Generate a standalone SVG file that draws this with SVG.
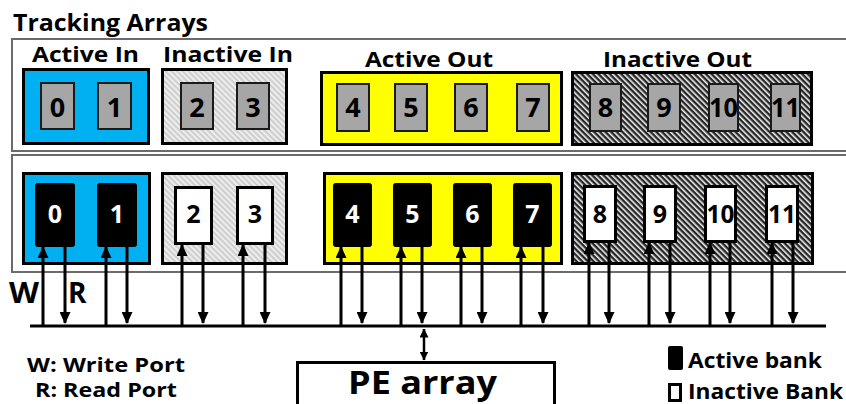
<svg xmlns="http://www.w3.org/2000/svg" width="846" height="404" viewBox="0 0 846 404">
<style>
text{font-family:"Open Sans",Lato,"Liberation Sans",sans-serif;font-weight:bold;fill:#000}
.frame{fill:none;stroke:#6b6b6b;stroke-width:2}
.grp{stroke:#000;stroke-width:3}
.blue{fill:#00b0f0}
.yellow{fill:#ffff00}
.lh{fill:url(#lightHatch)}
.dh{fill:url(#darkHatch)}
.tb{fill:#a6a6a6;stroke:#1a1a1a;stroke-width:2}
.ab{fill:#000;stroke:#000;stroke-width:1}
.ib{fill:#fff;stroke:#000;stroke-width:3}
.lbl{font-size:22px}
.n1{font-size:27px;text-anchor:middle}
.n2{font-size:25px;text-anchor:middle}
.wn{fill:#fff}
.wire{stroke:#000;stroke-width:3;fill:none}
</style>
<defs>
<pattern id="lightHatch" width="4" height="4" patternUnits="userSpaceOnUse" patternTransform="rotate(-45)">
<rect width="4" height="4" fill="#cfcfcf"/>
<rect width="1.6" height="4" fill="#f4f4f4"/>
</pattern>
<pattern id="darkHatch" width="4" height="4" patternUnits="userSpaceOnUse" patternTransform="rotate(-45)">
<rect width="4" height="4" fill="#262626"/>
<rect width="1.6" height="4" fill="#f0f0f0"/>
</pattern>
<marker id="ah" viewBox="0 0 12 11" refX="11" refY="5.5" markerWidth="12" markerHeight="11" markerUnits="userSpaceOnUse" orient="auto">
<path d="M0,0 L12,5.5 L0,11 z" fill="#000"/>
</marker>
<marker id="ahs" viewBox="0 0 9 9" refX="8.5" refY="4.5" markerWidth="9" markerHeight="9" markerUnits="userSpaceOnUse" orient="auto-start-reverse">
<path d="M0,0 L9,4.5 L0,9 z" fill="#000"/>
</marker>
</defs>

<rect width="846" height="404" fill="#fff"/>

<g id="title">
<text x="13" y="31" font-size="24" textLength="195" lengthAdjust="spacingAndGlyphs">Tracking Arrays</text>
</g>

<g id="tracking-frame">
<rect class="frame" x="12" y="39" width="850" height="112"/>
</g>
<g id="bank-frame">
<rect class="frame" x="12" y="155" width="850" height="117"/>
</g>

<!-- Tracking arrays row -->
<g id="t-active-in">
<text class="lbl" x="32" y="62" textLength="107" lengthAdjust="spacingAndGlyphs">Active In</text>
<rect class="grp blue" x="23.5" y="69.5" width="125" height="74"/>
<rect class="tb" x="41" y="83" width="33" height="46"/>
<rect class="tb" x="98" y="83" width="33" height="46"/>
<text class="n1" x="57.5" y="117">0</text>
<text class="n1" x="114.5" y="117">1</text>
</g>
<g id="t-inactive-in">
<text class="lbl" x="163" y="62" textLength="130" lengthAdjust="spacingAndGlyphs">Inactive In</text>
<rect class="grp lh" x="162.5" y="69.5" width="124" height="74"/>
<rect class="tb" x="181" y="83" width="32" height="46"/>
<rect class="tb" x="237" y="83" width="32" height="46"/>
<text class="n1" x="197" y="117">2</text>
<text class="n1" x="253" y="117">3</text>
</g>
<g id="t-active-out">
<text class="lbl" x="365" y="67" textLength="128" lengthAdjust="spacingAndGlyphs">Active Out</text>
<rect class="grp yellow" x="321.5" y="72.5" width="240" height="72"/>
<rect class="tb" x="337" y="84" width="32" height="47"/>
<rect class="tb" x="395" y="84" width="32" height="47"/>
<rect class="tb" x="455" y="84" width="32" height="47"/>
<rect class="tb" x="517" y="84" width="32" height="47"/>
<text class="n1" x="353" y="117">4</text>
<text class="n1" x="411" y="117">5</text>
<text class="n1" x="471" y="117">6</text>
<text class="n1" x="533" y="117">7</text>
</g>
<g id="t-inactive-out">
<text class="lbl" x="603" y="67" textLength="149" lengthAdjust="spacingAndGlyphs">Inactive Out</text>
<rect class="grp dh" x="572.5" y="72.5" width="239" height="72"/>
<rect class="tb" x="590" y="84" width="31" height="47"/>
<rect class="tb" x="648" y="84" width="32" height="47"/>
<rect class="tb" x="709" y="84" width="29" height="47"/>
<rect class="tb" x="771" y="84" width="29" height="47"/>
<text class="n1" x="605.5" y="117">8</text>
<text class="n1" x="664" y="117">9</text>
<text class="n1" x="723.5" y="117" textLength="29" lengthAdjust="spacingAndGlyphs">10</text>
<text class="n1" x="785.5" y="117" textLength="29" lengthAdjust="spacingAndGlyphs">11</text>
</g>

<!-- Bank row -->
<g id="b-active-in">
<rect class="grp blue" x="23.5" y="173.5" width="126" height="90"/>
<rect class="ab" x="35.5" y="183.5" width="39" height="63" rx="2"/>
<rect class="ab" x="97.5" y="183.5" width="39" height="63" rx="2"/>
<text class="n2 wn" x="55" y="223">0</text>
<text class="n2 wn" x="117" y="223">1</text>
</g>
<g id="b-inactive-in">
<rect class="grp lh" x="162.5" y="173.5" width="124" height="90"/>
<rect class="ib" x="175.5" y="187.5" width="36" height="56"/>
<rect class="ib" x="237.5" y="187.5" width="35" height="56"/>
<text class="n2" x="193.5" y="223">2</text>
<text class="n2" x="255" y="223">3</text>
</g>
<g id="b-active-out">
<rect class="grp yellow" x="324.5" y="173.5" width="237" height="90"/>
<rect class="ab" x="333.5" y="183.5" width="38" height="63" rx="2"/>
<rect class="ab" x="393.5" y="183.5" width="38" height="63" rx="2"/>
<rect class="ab" x="453.5" y="183.5" width="38" height="63" rx="2"/>
<rect class="ab" x="513.5" y="183.5" width="38" height="63" rx="2"/>
<text class="n2 wn" x="352.5" y="223">4</text>
<text class="n2 wn" x="412.5" y="223">5</text>
<text class="n2 wn" x="472.5" y="223">6</text>
<text class="n2 wn" x="532.5" y="223">7</text>
</g>
<g id="b-inactive-out">
<rect class="grp dh" x="572.5" y="173.5" width="240" height="90"/>
<rect class="ib" x="584.5" y="186.5" width="31" height="55"/>
<rect class="ib" x="644.5" y="186.5" width="31" height="55"/>
<rect class="ib" x="705.5" y="186.5" width="30" height="55"/>
<rect class="ib" x="766.5" y="186.5" width="31" height="55"/>
<text class="n2" x="600" y="223">8</text>
<text class="n2" x="660" y="223">9</text>
<text class="n2" x="720.5" y="223" textLength="28" lengthAdjust="spacingAndGlyphs">10</text>
<text class="n2" x="782" y="223" textLength="28" lengthAdjust="spacingAndGlyphs">11</text>
</g>

<g id="connectors">
<line class="wire" x1="30" y1="326" x2="826" y2="326"/>
<!-- write ports (up) -->
<line class="wire" x1="43" y1="326" x2="43" y2="247" marker-end="url(#ah)"/>
<line class="wire" x1="106" y1="326" x2="106" y2="247" marker-end="url(#ah)"/>
<line class="wire" x1="182" y1="326" x2="182" y2="245" marker-end="url(#ah)"/>
<line class="wire" x1="243" y1="326" x2="243" y2="245" marker-end="url(#ah)"/>
<line class="wire" x1="341" y1="326" x2="341" y2="247" marker-end="url(#ah)"/>
<line class="wire" x1="401" y1="326" x2="401" y2="247" marker-end="url(#ah)"/>
<line class="wire" x1="461" y1="326" x2="461" y2="247" marker-end="url(#ah)"/>
<line class="wire" x1="521" y1="326" x2="521" y2="247" marker-end="url(#ah)"/>
<line class="wire" x1="589" y1="326" x2="589" y2="243" marker-end="url(#ah)"/>
<line class="wire" x1="649" y1="326" x2="649" y2="243" marker-end="url(#ah)"/>
<line class="wire" x1="710" y1="326" x2="710" y2="243" marker-end="url(#ah)"/>
<line class="wire" x1="772" y1="326" x2="772" y2="243" marker-end="url(#ah)"/>
<!-- read ports (down) -->
<line class="wire" x1="65" y1="247" x2="65" y2="323" marker-end="url(#ah)"/>
<line class="wire" x1="127" y1="247" x2="127" y2="323" marker-end="url(#ah)"/>
<line class="wire" x1="203" y1="245" x2="203" y2="323" marker-end="url(#ah)"/>
<line class="wire" x1="265" y1="245" x2="265" y2="323" marker-end="url(#ah)"/>
<line class="wire" x1="362" y1="247" x2="362" y2="323" marker-end="url(#ah)"/>
<line class="wire" x1="422" y1="247" x2="422" y2="323" marker-end="url(#ah)"/>
<line class="wire" x1="482" y1="247" x2="482" y2="323" marker-end="url(#ah)"/>
<line class="wire" x1="543" y1="247" x2="543" y2="323" marker-end="url(#ah)"/>
<line class="wire" x1="609" y1="243" x2="609" y2="323" marker-end="url(#ah)"/>
<line class="wire" x1="670" y1="243" x2="670" y2="323" marker-end="url(#ah)"/>
<line class="wire" x1="730" y1="243" x2="730" y2="323" marker-end="url(#ah)"/>
<line class="wire" x1="793" y1="243" x2="793" y2="323" marker-end="url(#ah)"/>
<!-- bus to PE array -->
<line x1="424" y1="329" x2="424" y2="360" stroke="#000" stroke-width="2.5" marker-start="url(#ahs)" marker-end="url(#ahs)"/>
</g>

<g id="port-labels">
<text x="9" y="303" font-size="28" textLength="30" lengthAdjust="spacingAndGlyphs">W</text>
<text x="68" y="303" font-size="28">R</text>
</g>

<g id="port-legend">
<text x="27" y="372" font-size="20" textLength="158" lengthAdjust="spacingAndGlyphs">W: Write Port</text>
<text x="35" y="397" font-size="20" textLength="142" lengthAdjust="spacingAndGlyphs">R: Read Port</text>
</g>

<g id="pe-array">
<rect x="297.5" y="362.5" width="257" height="50" fill="#fff" stroke="#000" stroke-width="3"/>
<text x="348" y="394" font-size="32" textLength="149" lengthAdjust="spacingAndGlyphs">PE array</text>
</g>

<g id="bank-legend">
<rect x="668" y="346" width="15" height="24" rx="2" fill="#000"/>
<text x="688" y="368" font-size="22" textLength="134" lengthAdjust="spacingAndGlyphs">Active bank</text>
<rect x="669.5" y="384.5" width="11" height="16" fill="#fff" stroke="#000" stroke-width="3"/>
<text x="688" y="399" font-size="22" textLength="155" lengthAdjust="spacingAndGlyphs">Inactive Bank</text>
</g>
</svg>
